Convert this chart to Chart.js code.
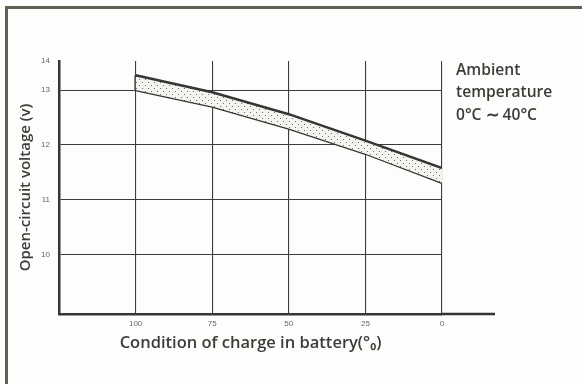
<!DOCTYPE html>
<html>
<head>
<meta charset="utf-8">
<script src="https://cdn.jsdelivr.net/npm/chart.js@4/dist/chart.umd.min.js"></script>
<style>
  body { margin: 0; background: #fdfdfb; }
  #wrap { position: relative; width: 582px; height: 384px; overflow: hidden; }
  #frame { position: absolute; left: 5px; top: 6px; width: 600px; height: 400px;
           border-left: 3px solid #5f6354; border-top: 3px solid #5f6354; }
  canvas { position: absolute; left: 0; top: 0; }
</style>
</head>
<body>
<div id="wrap">
  <div id="frame"></div>
  <canvas id="chart" width="582" height="384"></canvas>
</div>
<script>
// state of charge (%) and open-circuit voltage band limits
const charge = [100, 75, 50, 25, 0];
const voltHigh = [13.27, 12.96, 12.56, 12.08, 11.58];
const voltLow = [13.0, 12.7, 12.3, 11.84, 11.31];

const xTicks = [0, 25, 50, 75, 100];
const yTicks = [10, 11, 12, 13];
const yTopLabel = '14';
const xTitle = 'Condition of charge in battery(°₀)';
const yTitle = 'Open-circuit voltage (v)';
const noteLines = ['Ambient', 'temperature', '0°C ∼ 40°C'];

const Y_MIN = 8.92, Y_MAX = 13.53;
const ink = '#353535';
const textInk = '#3c3c3a';
const labelFont = '"Open Sans", "Liberation Sans", Arial, sans-serif';

// dotted fill for the band
function dotPattern() {
  const c = document.createElement('canvas');
  c.width = 6; c.height = 6;
  const g = c.getContext('2d');
  g.fillStyle = '#f4f4f0';
  g.fillRect(0, 0, 6, 6);
  g.fillStyle = '#6a6a66';
  g.fillRect(1, 1, 1, 1);
  g.fillRect(4, 4, 1, 1);
  return g.createPattern(c, 'repeat');
}

const pts = (ys) => charge.map((c, i) => ({ x: c, y: ys[i] }));

// baseline runs on past the 0 % line; side note at the right
const extras = {
  id: 'extras',
  afterDraw(chart) {
    const { ctx, chartArea } = chart;
    ctx.save();
    ctx.strokeStyle = ink;
    ctx.lineWidth = 2.5;
    ctx.beginPath();
    ctx.moveTo(chartArea.right - 1, chartArea.bottom);
    ctx.lineTo(495, chartArea.bottom);
    ctx.stroke();

    ctx.fillStyle = textInk;
    ctx.font = '600 15.6px ' + labelFont;
    ctx.textBaseline = 'middle';
    const ys = [71, 93, 116];
    noteLines.forEach((t, i) => ctx.fillText(t, 456, ys[i]));
    ctx.restore();
  }
};

new Chart(document.getElementById('chart'), {
  type: 'line',
  data: {
    datasets: [
      {
        data: pts(voltHigh),
        borderColor: ink,
        borderWidth: 2.4,
        backgroundColor: dotPattern(),
        fill: '+1',
        pointRadius: 0
      },
      {
        data: pts(voltLow),
        borderColor: ink,
        borderWidth: 2.4,
        fill: false,
        pointRadius: 0
      },
      {
        // closing edge of the band at full charge
        data: [{ x: charge[0], y: voltHigh[0] }, { x: charge[0], y: voltLow[0] }],
        borderColor: ink,
        borderWidth: 2.4,
        fill: false,
        pointRadius: 0
      }
    ]
  },
  options: {
    responsive: false,
    animation: false,
    layout: { padding: { left: 0, top: 61, right: 140, bottom: 0 } },
    plugins: { legend: { display: false }, tooltip: { enabled: false } },
    scales: {
      x: {
        type: 'linear',
        reverse: true,
        min: 0,
        max: 125,
        afterFit: (s) => { s.height = 70; },
        afterBuildTicks: (s) => { s.ticks = xTicks.map(v => ({ value: v })); },
        grid: { color: '#3c3c3c', lineWidth: 1.1, drawTicks: false },
        border: { color: ink, width: 2.5 },
        ticks: {
          color: '#666',
          font: { size: 8, family: '"Liberation Sans", Arial, sans-serif' },
          padding: 5,
          maxRotation: 0
        },
        title: {
          display: true,
          text: xTitle,
          color: textInk,
          font: { size: 16.5, weight: '600', family: labelFont },
          padding: { top: 0, bottom: 31 }
        }
      },
      y: {
        min: Y_MIN,
        max: Y_MAX,
        afterFit: (s) => { s.width = 59; },
        afterBuildTicks: (s) => {
          s.ticks = yTicks.concat([Y_MAX]).map(v => ({ value: v }));
        },
        grid: {
          color: (c) => (c.tick && c.tick.value === Y_MAX ? 'rgba(0,0,0,0)' : '#3c3c3c'),
          lineWidth: 1.1,
          drawTicks: false
        },
        border: { color: ink, width: 2.5 },
        ticks: {
          color: '#666',
          font: { size: 8, family: '"Liberation Sans", Arial, sans-serif' },
          padding: 9,
          callback: (v) => (v === Y_MAX ? yTopLabel : String(v))
        },
        title: {
          display: true,
          text: yTitle,
          color: textInk,
          font: { size: 15, weight: '600', family: labelFont },
          padding: { top: 17, bottom: 0 }
        }
      }
    }
  },
  plugins: [extras]
});
</script>
</body>
</html>
